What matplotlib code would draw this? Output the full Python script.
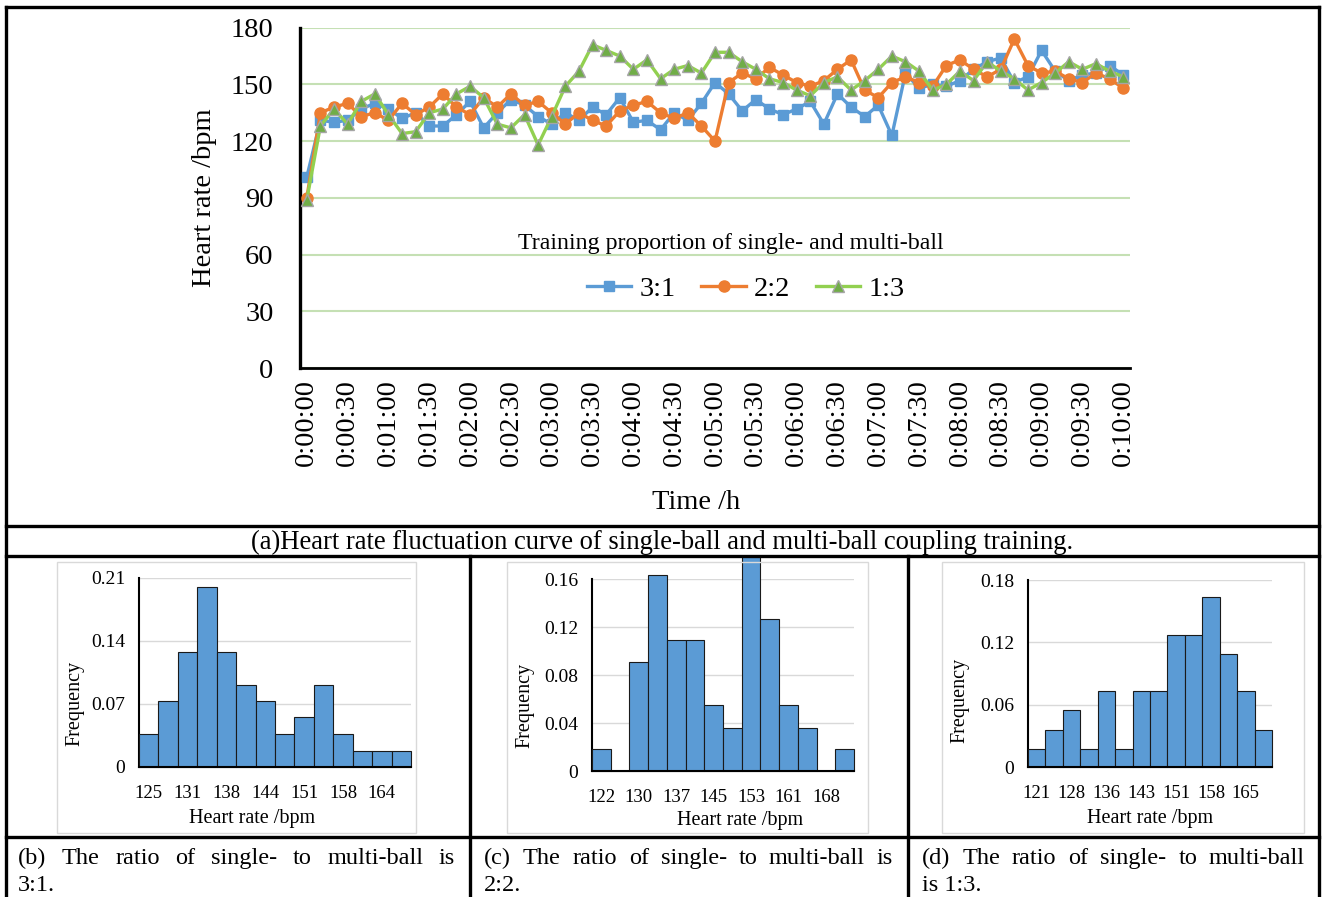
import matplotlib
matplotlib.use('Agg')
import matplotlib.pyplot as plt
from matplotlib.lines import Line2D
from matplotlib.patches import Rectangle
from matplotlib.transforms import Bbox, TransformedBbox

W, H = 1322, 897
plt.rcParams['font.family'] = ['Liberation Serif', 'DejaVu Serif']

# ---------------- data ----------------
time_labels = [f"0:{s // 60:02d}:{s % 60:02d}" for s in range(0, 601, 10)]
series_names = ["3:1", "2:2", "1:3"]
hr_31 = [101, 131, 130, 131, 137, 140, 137, 132, 135, 128, 128, 134, 141, 127, 135, 142, 139, 133, 129, 135,
         131, 138, 134, 143, 130, 131, 126, 135, 131, 140, 151, 145, 136, 142, 137, 134, 137, 141, 129, 145,
         138, 133, 139, 123, 156, 148, 150, 149, 152, 158, 162, 164, 151, 154, 168, 157, 152, 155, 156, 160,
         155]
hr_22 = [90, 135, 138, 140, 133, 135, 131, 140, 134, 138, 145, 138, 134, 143, 138, 145, 139, 141, 135, 129,
         135, 131, 128, 136, 139, 141, 135, 132, 135, 128, 120, 151, 156, 153, 159, 155, 151, 149, 152, 158,
         163, 147, 143, 151, 154, 151, 149, 160, 163, 158, 154, 158, 174, 160, 156, 157, 153, 151, 156, 153,
         148]
hr_13 = [89, 128, 137, 129, 141, 145, 134, 124, 125, 135, 137, 145, 149, 143, 129, 127, 134, 118, 133, 149,
         157, 171, 168, 165, 158, 163, 153, 158, 160, 156, 167, 167, 162, 158, 153, 151, 147, 144, 151, 154,
         147, 152, 158, 165, 162, 157, 147, 150, 157, 152, 162, 157, 153, 147, 151, 156, 162, 158, 161, 157,
         154]

freq_b = [0.036, 0.073, 0.127, 0.200, 0.127, 0.091, 0.073, 0.036, 0.055, 0.091, 0.036, 0.018, 0.018, 0.018]
labels_b = ["125", "131", "138", "144", "151", "158", "164"]
yticks_b = [0, 0.07, 0.14, 0.21]
yticklabels_b = ["0", "0.07", "0.14", "0.21"]

freq_c = [0.018, 0.0, 0.091, 0.164, 0.109, 0.109, 0.055, 0.036, 0.182, 0.127, 0.055, 0.036, 0.0, 0.018]
labels_c = ["122", "130", "137", "145", "153", "161", "168"]
yticks_c = [0, 0.04, 0.08, 0.12, 0.16]
yticklabels_c = ["0", "0.04", "0.08", "0.12", "0.16"]

freq_d = [0.018, 0.036, 0.055, 0.018, 0.073, 0.018, 0.073, 0.073, 0.127, 0.127, 0.164, 0.109, 0.073, 0.036]
labels_d = ["121", "128", "136", "143", "151", "158", "165"]
yticks_d = [0, 0.06, 0.12, 0.18]
yticklabels_d = ["0", "0.06", "0.12", "0.18"]

fig = plt.figure(figsize=(W / 100, H / 100), dpi=100)


def box(x0, y0, x1, y1):
    return [x0 / W, 1 - y1 / H, (x1 - x0) / W, (y1 - y0) / H]


def fx(x):
    return x / W


def fy(y):
    return 1 - y / H


# ---------------- main chart ----------------
ax = fig.add_axes(box(300, 27.7, 1130, 368))
xs = list(range(len(time_labels)))
styles = [
    dict(color='#5b9bd5', marker='s', markersize=7.5, markerfacecolor='#5b9bd5', markeredgecolor='#5b9bd5'),
    dict(color='#ed7d31', marker='o', markersize=8, markerfacecolor='#ed7d31', markeredgecolor='#ed7d31'),
    dict(color='#92d050', marker='^', markersize=8, markerfacecolor='#70ad47', markeredgecolor='#a5a5a5',
         markeredgewidth=1),
]
handles = []
for vals, name, st in zip([hr_31, hr_22, hr_13], series_names, styles):
    h, = ax.plot(xs, vals, lw=2.4, label=name, zorder=3, clip_on=False, **st)
    handles.append(h)

ax.set_xlim(-0.5, len(xs) - 0.5)
ax.set_ylim(0, 180)
ax.set_yticks([0, 30, 60, 90, 120, 150, 180])
ax.set_xticks(xs[::3])
ax.set_xticklabels(time_labels[::3], rotation=90, fontsize=20.5, va='top', ha='center')
ax.tick_params(axis='x', length=0, pad=8)
ax.tick_params(axis='y', length=0, pad=19, labelsize=20.5)
ax.grid(axis='y', color='#c5e0b4', lw=1.5, zorder=0)
ax.set_axisbelow(True)
for s in ['top', 'right']:
    ax.spines[s].set_visible(False)
ax.spines['left'].set_linewidth(2.4)
ax.spines['bottom'].set_linewidth(2.0)

fig.text(fx(205), fy(198), "Heart rate /bpm", rotation=90, fontsize=20.5, ha='center', va='center')
fig.text(fx(696), fy(502), "Time /h", fontsize=20.5, ha='center', va='center')
fig.text(fx(731), fy(243), "Training proportion of single- and multi-ball", fontsize=17.2, ha='center', va='center')
leg = fig.legend(handles=handles, loc='center', bbox_to_anchor=(fx(746), fy(289)), ncol=3, frameon=False,
                 fontsize=20.5, handlelength=1.55, handletextpad=0.3, columnspacing=0.9, borderpad=0)

# ---------------- histograms ----------------
hist_specs = [
    dict(frame=(57, 562, 416, 833), plot=(139, 577.7, 411, 766.7), freq=freq_b, labels=labels_b,
         yticks=yticks_b, ytl=yticklabels_b, ylim=0.21, xl=(252, 818), yl=(75, 703)),
    dict(frame=(507, 562, 868, 833), plot=(592, 579.3, 854, 771), freq=freq_c, labels=labels_c,
         yticks=yticks_c, ytl=yticklabels_c, ylim=0.16, xl=(740, 820), yl=(525, 705)),
    dict(frame=(942, 562, 1304, 833), plot=(1028, 580, 1272, 767.3), freq=freq_d, labels=labels_d,
         yticks=yticks_d, ytl=yticklabels_d, ylim=0.18, xl=(1150, 818), yl=(960, 700)),
]
clip_bbox = TransformedBbox(Bbox([[0, fy(897)], [1, fy(557)]]), fig.transFigure)
for sp in hist_specs:
    x0, y0, x1, y1 = sp['frame']
    fig.patches.append(Rectangle((fx(x0), fy(y1)), (x1 - x0) / W, (y1 - y0) / H, transform=fig.transFigure,
                                 fill=False, edgecolor='#d9d9d9', lw=1.0))
    hx = fig.add_axes(box(*sp['plot']))
    n = len(sp['freq'])
    bars = hx.bar(range(n), sp['freq'], width=1.0, color='#5b9bd5', edgecolor='#1a1a1a', lw=0.8, zorder=3)
    for b in bars:
        b.set_clip_on(True)
        b.set_clip_box(clip_bbox)
    hx.set_xlim(-0.5, n - 0.5)
    hx.set_ylim(0, sp['ylim'])
    hx.set_yticks(sp['yticks'])
    hx.set_yticklabels(sp['ytl'])
    hx.set_xticks(list(range(0, n, 2)))
    hx.set_xticklabels(sp['labels'])
    hx.tick_params(axis='both', length=0)
    hx.tick_params(axis='y', pad=10, labelsize=14)
    hx.tick_params(axis='x', pad=13, labelsize=13.5)
    hx.grid(axis='y', color='#d9d9d9', lw=1.0, zorder=0)
    hx.set_axisbelow(True)
    for s in ['top', 'right']:
        hx.spines[s].set_visible(False)
    hx.spines['left'].set_linewidth(1.5)
    hx.spines['bottom'].set_linewidth(1.5)
    hx.spines['bottom'].set_zorder(4)
    fig.text(fx(sp['xl'][0]), fy(sp['xl'][1]), "Heart rate /bpm", fontsize=14.5, ha='center', va='center')
    fig.text(fx(sp['yl'][0]), fy(sp['yl'][1]), "Frequency", fontsize=14.5, rotation=90, ha='center',
             va='center')

# ---------------- table borders ----------------
blw = 2.4
border_lines = [
    ((6, 1319), (7, 7)),
    ((6, 6), (7, 897)),
    ((1319, 1319), (7, 897)),
    ((6, 1319), (525.5, 525.5)),
    ((6, 1319), (556, 556)),
    ((6, 1319), (837, 837)),
    ((470, 470), (556, 897)),
    ((908, 908), (556, 897)),
]
for (xa, xb), (ya, yb) in border_lines:
    fig.lines.append(Line2D([fx(xa), fx(xb)], [fy(ya), fy(yb)], transform=fig.transFigure, color='black',
                            lw=blw, zorder=10, solid_capstyle='projecting'))

# ---------------- captions ----------------
cap_fs = 17.5
fig.text(fx(662), fy(549), "(a)Heart rate fluctuation curve of single-ball and multi-ball coupling training.",
         fontsize=19.2, ha='center', va='baseline')

renderer = fig.canvas.get_renderer()


def justified(words, x0, x1, y):
    texts = [fig.text(0, fy(y), w, fontsize=cap_fs, ha='left', va='baseline') for w in words]
    widths = [t.get_window_extent(renderer).width for t in texts]
    gap = (x1 - x0 - sum(widths)) / (len(words) - 1)
    x = x0
    for t, w in zip(texts, widths):
        t.set_x(fx(x))
        x += w + gap


y1c, y2c = 864, 891
justified("(b) The ratio of single- to multi-ball is".split(), 18, 455, y1c)
fig.text(fx(18), fy(y2c), "3:1.", fontsize=cap_fs, ha='left', va='baseline')
justified("(c) The ratio of single- to multi-ball is".split(), 484, 893, y1c)
fig.text(fx(484), fy(y2c), "2:2.", fontsize=cap_fs, ha='left', va='baseline')
justified("(d) The ratio of single- to multi-ball".split(), 922, 1305, y1c)
fig.text(fx(922), fy(y2c), "is 1:3.", fontsize=cap_fs, ha='left', va='baseline')

fig.savefig('out.png', dpi=100)
